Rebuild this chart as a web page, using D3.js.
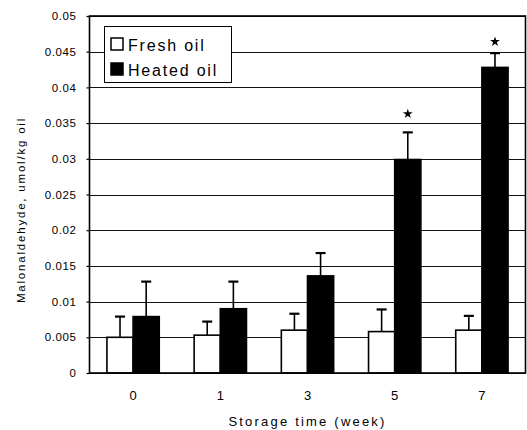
<!DOCTYPE html>
<html>
<head>
<meta charset="utf-8">
<script src="https://cdn.jsdelivr.net/npm/d3@7"></script>
<style>
  body { margin: 0; background: #fff; }
  svg text { font-family: "Liberation Sans", Arial, sans-serif; fill: #000; }
</style>
</head>
<body>
<svg id="chart"></svg>
<script>
var weeks = ["0", "1", "3", "5", "7"]
var series = ["Fresh oil", "Heated oil"]
var fresh = [0.005, 0.0053, 0.006, 0.0058, 0.006]
var freshErr = [0.0029, 0.0019, 0.0023, 0.0031, 0.002]
var heated = [0.0079, 0.009, 0.0136, 0.0299, 0.0428]
var heatedErr = [0.0049, 0.0038, 0.0032, 0.0038, 0.002]
// significance marks (value level where the star sits)
var stars = [null, null, null, 0.0363, 0.0464]
var yTicks = [0, 0.005, 0.01, 0.015, 0.02, 0.025, 0.03, 0.035, 0.04, 0.045, 0.05]
var yLabels = ["0", "0.005", "0.01", "0.015", "0.02", "0.025", "0.03", "0.035", "0.04", "0.045", "0.05"]

var width = 527
var height = 430
var plotL = 89.5, plotR = 525.5, plotT = 16, plotB = 373

var svg = d3.select("#chart")
    .attr("width", width)
    .attr("height", height)

var x0 = d3.scaleBand()
    .domain(weeks)
    .range([plotL, plotR])
    .paddingInner(0.4)
    .paddingOuter(0.2)

var x1 = d3.scaleBand()
    .domain(series)
    .range([0, x0.bandwidth()])

var y = d3.scaleLinear()
    .domain([0, 0.05])
    .range([plotB, plotT])

// grid lines
svg.append("g")
    .selectAll("line")
    .data(yTicks)
    .enter()
    .append("line")
        .attr("x1", plotL)
        .attr("x2", plotR)
        .attr("y1", d => Math.round(y(d)) + 0.5)
        .attr("y2", d => Math.round(y(d)) + 0.5)
        .attr("stroke", "#111")
        .attr("stroke-width", 1.2)

// y axis
var yAxis = svg.append("g")
    .attr("transform", "translate(" + plotL + ",0)")
    .call(d3.axisLeft(y).tickValues(yTicks).tickSize(3).tickPadding(10)
        .tickFormat((d, i) => yLabels[i]))
yAxis.select(".domain").remove()
yAxis.selectAll("line").attr("stroke", "#000").attr("stroke-width", 1.2)
yAxis.selectAll("text")
    .style("font-size", "11.5px")
    .style("letter-spacing", "0.6px")

// x axis labels
var xAxis = svg.append("g")
    .attr("transform", "translate(0," + plotB + ")")
    .call(d3.axisBottom(x0).tickSize(0).tickPadding(18))
xAxis.select(".domain").remove()
xAxis.selectAll("text").style("font-size", "13px")

var data = weeks.map((w, i) => ({
    week: w,
    values: [
        {key: series[0], v: fresh[i], e: freshErr[i]},
        {key: series[1], v: heated[i], e: heatedErr[i]}
    ]
}))

var groups = svg.append("g")
    .selectAll("g")
    .data(data)
    .enter()
    .append("g")
        .attr("transform", d => "translate(" + x0(d.week) + ",0)")

// error bars (upper only)
groups.selectAll("line.err")
    .data(d => d.values)
    .enter()
    .append("line")
        .attr("class", "err")
        .attr("x1", d => x1(d.key) + x1.bandwidth() / 2)
        .attr("x2", d => x1(d.key) + x1.bandwidth() / 2)
        .attr("y1", d => y(d.v))
        .attr("y2", d => y(d.v + d.e))
        .attr("stroke", "#000")
        .attr("stroke-width", 1.6)

groups.selectAll("line.cap")
    .data(d => d.values)
    .enter()
    .append("line")
        .attr("class", "cap")
        .attr("x1", d => x1(d.key) + x1.bandwidth() / 2 - 5)
        .attr("x2", d => x1(d.key) + x1.bandwidth() / 2 + 5)
        .attr("y1", d => y(d.v + d.e))
        .attr("y2", d => y(d.v + d.e))
        .attr("stroke", "#000")
        .attr("stroke-width", 2.2)

groups.selectAll("rect")
    .data(d => d.values)
    .enter()
    .append("rect")
        .attr("x", d => x1(d.key))
        .attr("y", d => y(d.v))
        .attr("width", x1.bandwidth())
        .attr("height", d => y(0) - y(d.v))
        .attr("fill", d => d.key == series[0] ? "#fff" : "#000")
        .attr("stroke", "#000")
        .attr("stroke-width", 1.6)

// stars
svg.append("g")
    .selectAll("path")
    .data(weeks.map((w, i) => ({week: w, s: stars[i]})).filter(d => d.s != null))
    .enter()
    .append("path")
        .attr("d", d3.symbol(d3.symbolStar, 30))
        .attr("transform", d => "translate(" + (x0(d.week) + x1(series[1]) + x1.bandwidth() / 2) + "," + y(d.s) + ")")
        .attr("fill", "#000")

// frame
svg.append("rect")
    .attr("x", plotL)
    .attr("y", plotT)
    .attr("width", plotR - plotL)
    .attr("height", plotB - plotT)
    .attr("fill", "none")
    .attr("stroke", "#000")
    .attr("stroke-width", 1.6)

// legend
var legend = svg.append("g")
legend.append("rect")
    .attr("x", 104.5)
    .attr("y", 26.5)
    .attr("width", 127)
    .attr("height", 56)
    .attr("fill", "#fff")
    .attr("stroke", "#000")
    .attr("stroke-width", 1)

var items = legend.selectAll("g.item")
    .data(series)
    .enter()
    .append("g")
        .attr("class", "item")
        .attr("transform", (d, i) => "translate(0," + (i * 25) + ")")

items.append("rect")
    .attr("x", 111)
    .attr("y", 38)
    .attr("width", 12)
    .attr("height", 12)
    .attr("fill", (d, i) => i == 0 ? "#fff" : "#000")
    .attr("stroke", "#000")
    .attr("stroke-width", 1.5)

items.append("text")
    .attr("x", 128)
    .attr("y", 50.5)
    .style("font-size", "16px")
    .style("letter-spacing", "1.8px")
    .text(d => d)

// axis titles
svg.append("text")
    .attr("x", (plotL + plotR) / 2)
    .attr("y", 425.5)
    .attr("text-anchor", "middle")
    .style("font-size", "13px")
    .style("letter-spacing", "2.2px")
    .text("Storage time (week)")

svg.append("text")
    .attr("transform", "translate(25,210) rotate(-90)")
    .attr("text-anchor", "middle")
    .style("font-size", "11.5px")
    .style("letter-spacing", "1.8px")
    .text("Malonaldehyde, umol/kg oil")
</script>
</body>
</html>
